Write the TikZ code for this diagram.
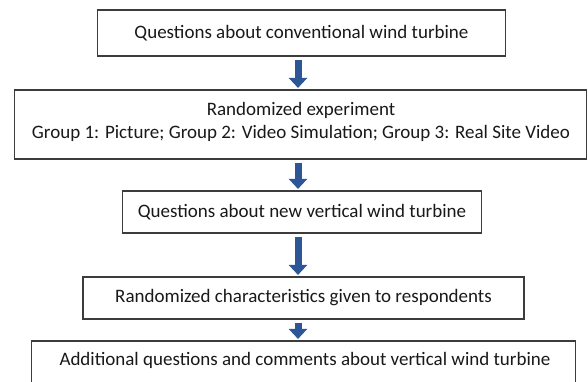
\documentclass[tikz,border=0pt]{standalone}
\usepackage{fontspec}
\setmainfont{Carlito}
\usetikzlibrary{arrows.meta}
\definecolor{arrowblue}{RGB}{44,86,150}
\definecolor{boxline}{RGB}{60,60,60}
\definecolor{txt}{RGB}{25,25,25}
\tikzset{
  box/.style={draw=boxline, line width=1.1pt, fill=white, inner sep=0pt, text=txt, font=\fontsize{19}{23}\selectfont, align=center},
  bigarrow/.style={draw=arrowblue, line width=7pt, -{Triangle[width=18pt,length=10pt]}, shorten <=3pt, shorten >=1.5pt}
}
\begin{document}
\begin{tikzpicture}[x=1pt,y=-1pt]
\useasboundingbox (0,0) rectangle (588,382);
\clip (0,0) rectangle (588,382);
\node[box, minimum width=408pt, minimum height=46pt] (b1) at (301.5,33) {Questions about conventional wind turbine};
\node[box, minimum width=572pt, minimum height=69pt] (b2) at (300.5,124.5) {};
\node[text=txt, font=\fontsize{19}{23}\selectfont, align=center, inner sep=0pt] (t2) at (301,121.5) {Randomized experiment\\Group 1: Picture; Group 2: Video Simulation; Group 3: Real Site Video};
\node[box, minimum width=359pt, minimum height=42pt] (b3) at (302,212) {Questions about new vertical wind turbine};
\node[box, minimum width=441pt, minimum height=42pt] (b4) at (303.5,298) {Randomized characteristics given to respondents};
\node[box, minimum width=544pt, minimum height=46pt] (b5) at (303.5,364) {};
\node[text=txt, font=\fontsize{19}{23}\selectfont, inner sep=0pt] (t5) at (305,360) {Additional questions and comments about vertical wind turbine};
\coordinate (ax) at (298,0);
\draw[bigarrow] (ax |- b1.south) -- (ax |- b2.north);
\draw[bigarrow] (ax |- b2.south) -- (ax |- b3.north);
\draw[bigarrow] (ax |- b3.south) -- (ax |- b4.north);
\draw[bigarrow] (ax |- b4.south) -- (ax |- b5.north);
\end{tikzpicture}
\end{document}
